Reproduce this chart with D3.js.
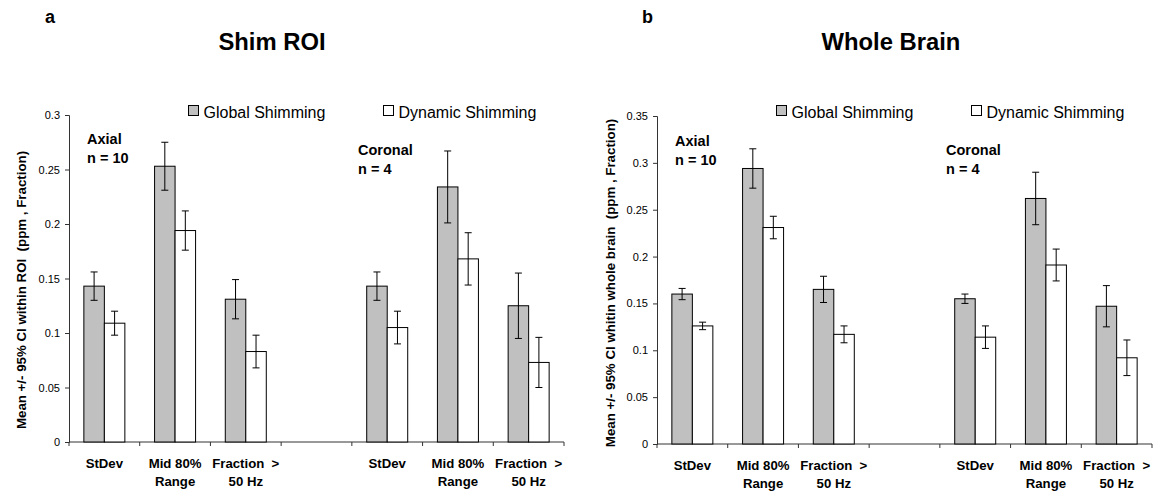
<!DOCTYPE html>
<html>
<head>
<meta charset="utf-8">
<script src="https://cdn.jsdelivr.net/npm/d3@7"></script>
<style>
  html, body { margin: 0; padding: 0; background: #fff; }
  svg { display: block; font-family: "Liberation Sans", Arial, sans-serif; }
</style>
</head>
<body>
<svg id="chart" width="1154" height="495"></svg>
<script>
// Category labels (multi-line labels split with "|"; empty slot separates the two orientations)
const categories = ["StDev", "Mid 80%|Range", "Fraction  >|50 Hz", "", "StDev", "Mid 80%|Range", "Fraction  >|50 Hz"];
const seriesNames = ["Global Shimming", "Dynamic Shimming"];

// Panel a: Shim ROI — means and 95% CI half-widths
const roiGlobalMean    = [0.143, 0.253, 0.131, null, 0.143, 0.234, 0.125];
const roiGlobalCI      = [0.013, 0.022, 0.018, null, 0.013, 0.033, 0.030];
const roiDynamicMean   = [0.109, 0.194, 0.083, null, 0.105, 0.168, 0.073];
const roiDynamicCI     = [0.011, 0.018, 0.015, null, 0.015, 0.024, 0.023];
const roiTicks = [0, 0.05, 0.1, 0.15, 0.2, 0.25, 0.3];

// Panel b: Whole Brain — means and 95% CI half-widths
const brainGlobalMean  = [0.160, 0.294, 0.165, null, 0.155, 0.262, 0.147];
const brainGlobalCI    = [0.006, 0.021, 0.014, null, 0.005, 0.028, 0.022];
const brainDynamicMean = [0.126, 0.231, 0.117, null, 0.114, 0.191, 0.092];
const brainDynamicCI   = [0.004, 0.012, 0.009, null, 0.012, 0.017, 0.019];
const brainTicks = [0, 0.05, 0.1, 0.15, 0.2, 0.25, 0.3, 0.35];

const svg = d3.select("#chart");
svg.append("rect").attr("width", 1154).attr("height", 495).attr("fill", "#fff");

const fills = ["#c0c0c0", "#ffffff"];

function drawPanel(opt) {
  const g = svg.append("g");

  const x = d3.scaleBand().domain(d3.range(categories.length)).range([opt.left, opt.right]).padding(0);
  const step = x.bandwidth();
  const groupW = 41;
  const x1 = d3.scaleBand().domain([0, 1]).range([(step - groupW) / 2, (step + groupW) / 2]);
  const y = d3.scaleLinear().domain([0, opt.yMax]).range([opt.bottom, opt.top]);

  // Panel letter and title
  g.append("text").attr("x", opt.letterX).attr("y", 23)
    .attr("font-size", 18).attr("font-weight", "bold").text(opt.letter);
  g.append("text").attr("x", opt.titleX).attr("y", 50).attr("text-anchor", "middle")
    .attr("font-size", 23.8).attr("font-weight", "bold").text(opt.title);

  // Y axis
  const yAxis = d3.axisLeft(y).tickValues(opt.ticks).tickSize(4).tickPadding(5)
    .tickFormat(d => String(+d.toFixed(2)));
  const ya = g.append("g").attr("transform", `translate(${opt.left},0)`).call(yAxis);
  ya.select(".domain").attr("stroke", "#333");
  ya.selectAll(".tick line").attr("stroke", "#333");
  ya.selectAll(".tick text").attr("font-size", 11).attr("font-family", "Liberation Sans, Arial, sans-serif").attr("fill", "#000");

  // X axis baseline and boundary ticks
  const xa = g.append("g").attr("transform", `translate(0,${opt.bottom})`);
  xa.append("line").attr("x1", opt.left).attr("x2", opt.right).attr("stroke", "#333");
  const bounds = categories.map((c, i) => x(i)).concat([opt.right]);
  xa.selectAll("line.b").data(bounds).join("line").attr("class", "b")
    .attr("x1", d => d).attr("x2", d => d).attr("y1", 0).attr("y2", 4).attr("stroke", "#333");

  // Category labels
  categories.forEach((c, i) => {
    if (!c) return;
    const t = g.append("text").attr("text-anchor", "middle").attr("font-size", 13.2).attr("font-weight", "bold")
      .attr("xml:space", "preserve");
    c.split("|").forEach((line, k) => {
      t.append("tspan").attr("x", x(i) + step / 2).attr("y", opt.bottom + 26 + k * 17.5).text(line);
    });
  });

  // Bars and error bars
  const series = [
    { mean: opt.gMean, ci: opt.gCI },
    { mean: opt.dMean, ci: opt.dCI }
  ];
  series.forEach((s, si) => {
    const data = s.mean.map((m, i) => ({ i, m, ci: s.ci[i] })).filter(d => d.m != null);
    g.selectAll(null).data(data).join("rect")
      .attr("x", d => x(d.i) + x1(si)).attr("width", x1.bandwidth())
      .attr("y", d => y(d.m)).attr("height", d => y(0) - y(d.m))
      .attr("fill", fills[si]).attr("stroke", "#000").attr("stroke-width", 1);
    const eb = g.selectAll(null).data(data).join("g")
      .attr("transform", d => `translate(${x(d.i) + x1(si) + x1.bandwidth() / 2},0)`);
    eb.append("line").attr("y1", d => y(d.m + d.ci)).attr("y2", d => y(d.m - d.ci)).attr("stroke", "#000");
    eb.append("line").attr("x1", -3.5).attr("x2", 3.5).attr("y1", d => y(d.m + d.ci)).attr("y2", d => y(d.m + d.ci)).attr("stroke", "#000");
    eb.append("line").attr("x1", -3.5).attr("x2", 3.5).attr("y1", d => y(d.m - d.ci)).attr("y2", d => y(d.m - d.ci)).attr("stroke", "#000");
  });

  // Legend
  seriesNames.forEach((name, si) => {
    const lx = opt.legendX[si];
    g.append("rect").attr("x", lx).attr("y", 105.5).attr("width", 10).attr("height", 10)
      .attr("fill", fills[si]).attr("stroke", "#000");
    g.append("text").attr("x", lx + 15).attr("y", 117.5).attr("font-size", 16).text(name);
  });

  // Orientation annotations
  opt.notes.forEach(n => {
    g.append("text").attr("x", n.x).attr("y", n.y).attr("font-size", 14.5).attr("font-weight", "bold").text(n.a);
    g.append("text").attr("x", n.x).attr("y", n.y + 19).attr("font-size", 14.5).attr("font-weight", "bold").text(n.b);
  });

  // Y axis title
  g.append("text").attr("transform", `translate(${opt.yTitleX},${opt.yTitleY}) rotate(-90)`)
    .attr("text-anchor", "middle").attr("font-size", 13.3).attr("font-weight", "bold")
    .attr("xml:space", "preserve").text(opt.yTitle);
}

drawPanel({
  letter: "a", letterX: 45, title: "Shim ROI", titleX: 272,
  left: 69, right: 564, top: 115, bottom: 442, yMax: 0.3, ticks: roiTicks,
  gMean: roiGlobalMean, gCI: roiGlobalCI, dMean: roiDynamicMean, dCI: roiDynamicCI,
  legendX: [188.5, 383.5],
  notes: [{ x: 87, y: 144, a: "Axial", b: "n = 10" }, { x: 358, y: 155, a: "Coronal", b: "n = 4" }],
  yTitle: "Mean +/- 95% CI within ROI  (ppm , Fraction)", yTitleX: 26, yTitleY: 290
});

drawPanel({
  letter: "b", letterX: 642, title: "Whole Brain", titleX: 891,
  left: 657, right: 1152, top: 116, bottom: 444, yMax: 0.35, ticks: brainTicks,
  gMean: brainGlobalMean, gCI: brainGlobalCI, dMean: brainDynamicMean, dCI: brainDynamicCI,
  legendX: [776.5, 971.5],
  notes: [{ x: 675, y: 146, a: "Axial", b: "n = 10" }, { x: 946, y: 155, a: "Coronal", b: "n = 4" }],
  yTitle: "Mean +/- 95% CI whitin whole brain  (ppm , Fraction)", yTitleX: 615, yTitleY: 283
});
</script>
</body>
</html>
